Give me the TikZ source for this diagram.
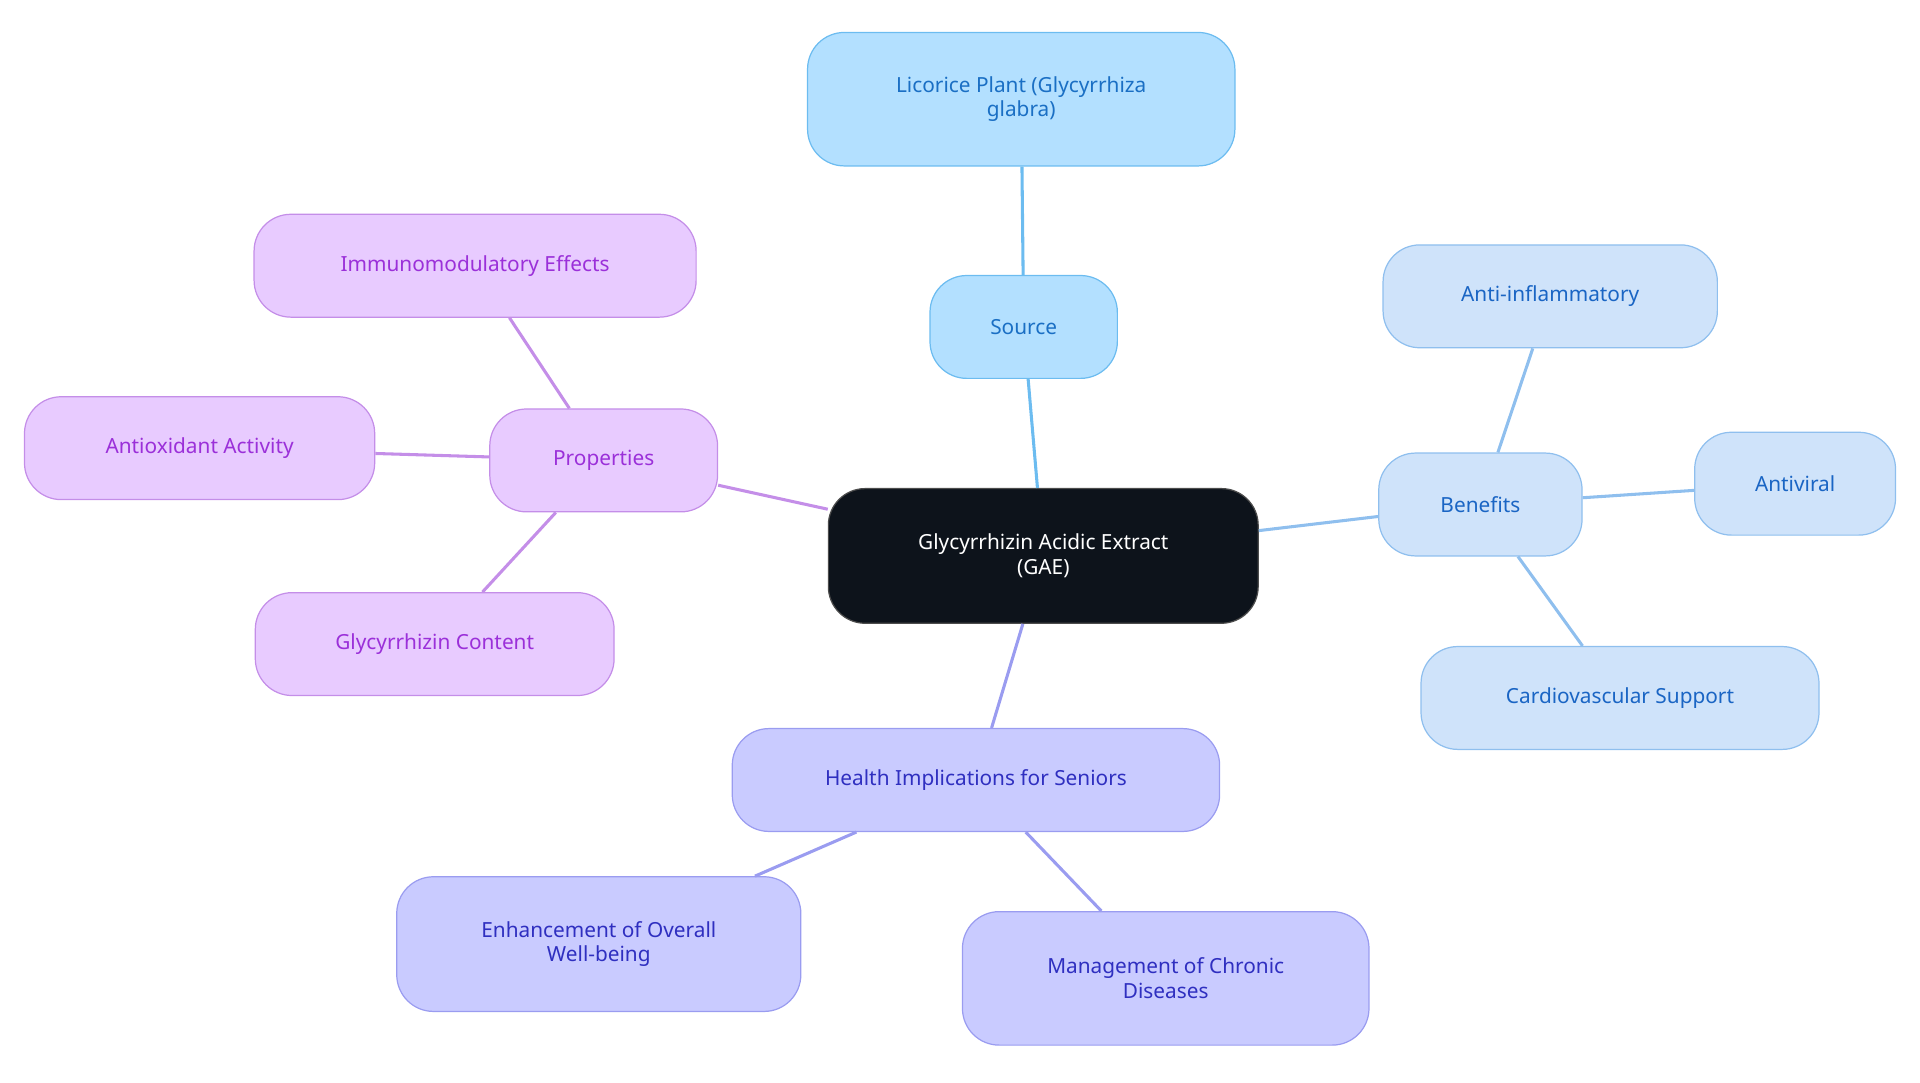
\documentclass[tikz,border=0pt]{standalone}
\usepackage{fontspec}
\setmainfont{Noto Sans}
\begin{document}
\begin{tikzpicture}[x=1pt,y=-1pt,
 every node/.style={font=\fontsize{17}{20}\selectfont,align=center,rounded corners=30pt,line width=1pt},
 root/.style={draw=black!70,fill=black!85!blue!30!black,fill={rgb,255:red,13;green,19;blue,27},text=white,minimum width=351pt,minimum height=110pt},
 src/.style={draw={rgb,255:red,108;green,188;blue,240},fill={rgb,255:red,179;green,224;blue,255},text={rgb,255:red,26;green,111;blue,196},minimum height=84pt},
 ben/.style={draw={rgb,255:red,143;green,191;blue,238},fill={rgb,255:red,207;green,227;blue,250},text={rgb,255:red,26;green,101;blue,196},minimum height=84pt},
 prop/.style={draw={rgb,255:red,196;green,142;blue,232},fill={rgb,255:red,232;green,203;blue,255},text={rgb,255:red,155;green,48;blue,217},minimum height=84pt},
 hea/.style={draw={rgb,255:red,154;green,156;blue,240},fill={rgb,255:red,201;green,203;blue,255},text={rgb,255:red,47;green,47;blue,192},minimum height=84pt},
 e/.style={line width=2.5pt}]
\useasboundingbox (0,0) rectangle (1568,884);
\node[root] (c) at (852,454) {Glycyrrhizin Acidic Extract\\(GAE)};
\node[src,minimum width=153pt] (s) at (836,267) {Source};
\node[src,minimum width=349pt,minimum height=109pt] (l) at (834,81) {Licorice Plant (Glycyrrhiza\\glabra)};
\node[ben,minimum width=166pt] (b) at (1209,412) {Benefits};
\node[ben,minimum width=273pt] (b1) at (1266,242) {Anti-inflammatory};
\node[ben,minimum width=164pt] (b2) at (1466,395) {Antiviral};
\node[ben,minimum width=325pt] (b3) at (1323,570) {Cardiovascular Support};
\node[prop,minimum width=186pt] (p) at (493,376) {Properties};
\node[prop,minimum width=361pt] (p1) at (388,217) {Immunomodulatory Effects};
\node[prop,minimum width=286pt] (p2) at (163,366) {Antioxidant Activity};
\node[prop,minimum width=293pt] (p3) at (355,526) {Glycyrrhizin Content};
\node[hea,minimum width=398pt] (h) at (797,637) {Health Implications for Seniors};
\node[hea,minimum width=330pt,minimum height=110pt] (h1) at (489,771) {Enhancement of Overall\\Well-being};
\node[hea,minimum width=332pt,minimum height=109pt] (h2) at (952,799) {Management of Chronic\\Diseases};
\begin{scope}[on background layer/.try]
\end{scope}
\draw[e,draw={rgb,255:red,108;green,188;blue,240}] (c) -- (s) (s) -- (l);
\draw[e,draw={rgb,255:red,143;green,191;blue,238}] (c) -- (b) (b) -- (b1) (b) -- (b2) (b) -- (b3);
\draw[e,draw={rgb,255:red,196;green,142;blue,232}] (c) -- (p) (p) -- (p1) (p) -- (p2) (p) -- (p3);
\draw[e,draw={rgb,255:red,154;green,156;blue,240}] (c) -- (h) (h) -- (h1) (h) -- (h2);
\end{tikzpicture}
\end{document}
